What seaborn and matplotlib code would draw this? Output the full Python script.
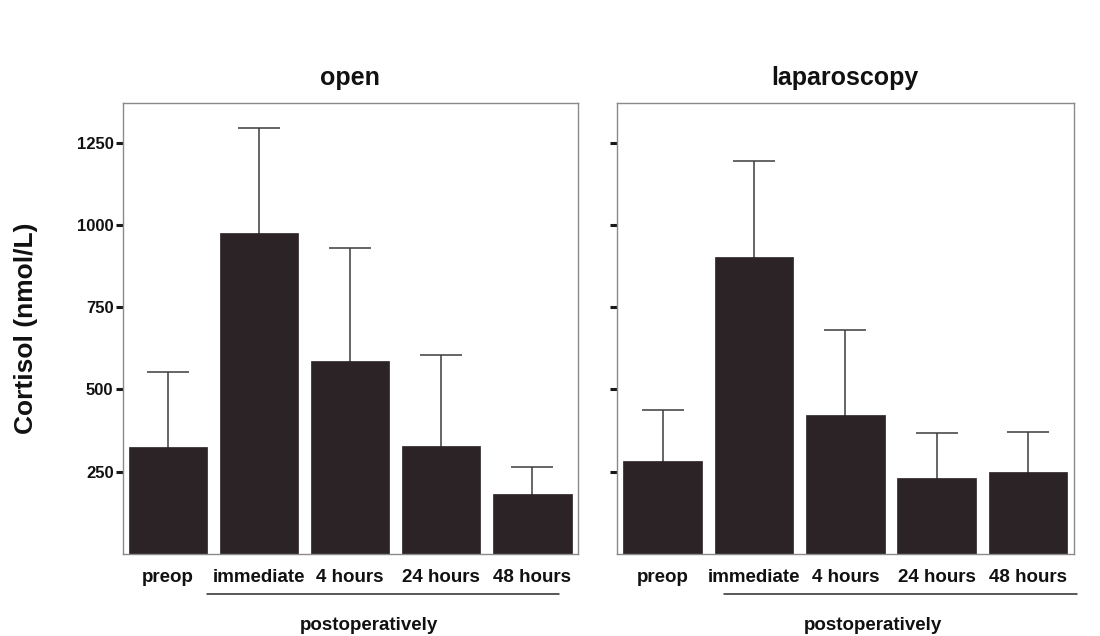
import numpy as np
import pandas as pd
import seaborn as sns
import matplotlib.pyplot as plt
import matplotlib.transforms as mtransforms

# dati
timepoints = ['preop', 'immediate', '4 hours', '24 hours', '48 hours']
open_mean = [326, 976, 585, 328, 181]
open_sd = [227, 318, 344, 276, 83]
lap_mean = [282, 902, 423, 231, 248]
lap_sd = [155, 293, 257, 137, 124]
y_ticks = [250, 500, 750, 1000, 1250]

sns.set_style('white')
plt.rcParams['font.family'] = ['Liberation Sans', 'DejaVu Sans']
plt.rcParams['font.weight'] = 'bold'
plt.rcParams['text.color'] = '#111111'
plt.rcParams['axes.labelcolor'] = '#111111'
plt.rcParams['xtick.color'] = '#111111'
plt.rcParams['ytick.color'] = '#111111'

bar_color = '#2b2325'
err_color = '#3c3c3c'

fig = plt.figure(figsize=(11, 6.36), dpi=100)
ax1 = fig.add_axes([0.1114, 0.129, 0.414, 0.709])
ax2 = fig.add_axes([0.561, 0.129, 0.415, 0.709])

panels = [(ax1, 'open', open_mean, open_sd),
          (ax2, 'laparoscopy', lap_mean, lap_sd)]

for ax, title, means, sds in panels:
    df = pd.DataFrame({'time': timepoints, 'cortisol': means})
    sns.barplot(data=df, x='time', y='cortisol', color=bar_color,
                saturation=1, width=0.86, errorbar=None, ax=ax, zorder=2,
                edgecolor=bar_color, linewidth=0.5)
    x = np.arange(len(timepoints))
    # solo la parte superiore dell'errore (la parte sotto resta nascosta dietro la barra)
    ax.errorbar(x, means, yerr=[np.full(len(sds), 30), sds], fmt='none',
                ecolor=err_color, elinewidth=1.1, capsize=15, capthick=1.1,
                zorder=1)
    ax.set_xlim(-0.5, 4.5)
    ax.set_ylim(0, 1370)
    ax.set_yticks(y_ticks)
    ax.set_xlabel('')
    ax.set_ylabel('')
    ax.set_title(title, fontsize=18, fontweight='bold', pad=13)
    ax.tick_params(axis='x', length=0, pad=11, labelsize=13.5)
    ax.tick_params(axis='y', length=5, width=2.2, color='#1a1a1a',
                   direction='out', left=True, pad=1.5, labelsize=12)
    for lab in ax.get_xticklabels() + ax.get_yticklabels():
        lab.set_fontweight('bold')
    for sp in ax.spines.values():
        sp.set_color('#8a8a8a')
        sp.set_linewidth(1)

ax1.set_ylabel('Cortisol (nmol/L)', fontsize=19, fontweight='bold', labelpad=28)
ax2.tick_params(axis='y', labelleft=False)

# barra "postoperatively"
for ax, x0, x1, xt in [(ax1, 0.43, 4.29, 2.2), (ax2, 0.67, 4.54, 2.3)]:
    trans = mtransforms.blended_transform_factory(ax.transData, ax.transAxes)
    ax.plot([x0, x1], [-0.089, -0.089], transform=trans, color='#2a2a2a',
            lw=1.1, clip_on=False)
    ax.text(xt, -0.158, 'postoperatively', transform=trans, ha='center',
            va='center', fontsize=13.5, fontweight='bold')

fig.savefig('out.png', dpi=100)
